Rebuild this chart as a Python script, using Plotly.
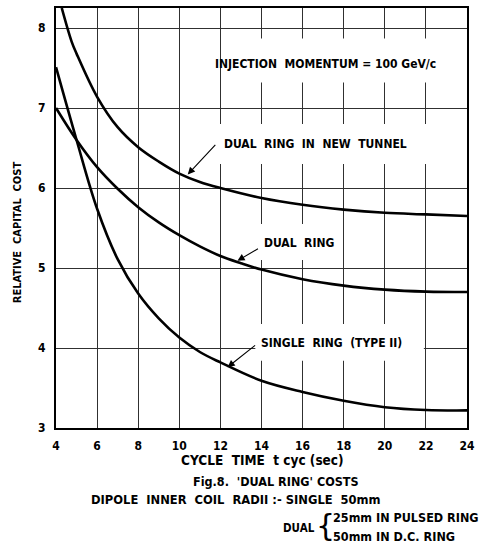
import plotly.graph_objects as go

# ---- data ----
x_tunnel = [4.28, 4.76, 5, 6, 7, 8, 9, 10, 11, 12, 14, 16, 18, 20, 22, 24]
y_tunnel = [8.25, 7.83, 7.68, 7.14, 6.76, 6.51, 6.33, 6.18, 6.075, 6.0, 5.875, 5.79, 5.73, 5.69, 5.67, 5.65]

x_dual = [4, 5, 6, 7, 8, 9, 10, 11, 12, 13, 14, 16, 18, 20, 22, 24]
y_dual = [7.0, 6.6, 6.26, 5.99, 5.76, 5.57, 5.41, 5.27, 5.15, 5.06, 4.98, 4.86, 4.78, 4.73, 4.705, 4.70]

x_single = [4, 5, 6, 7, 8, 9, 10, 11, 12, 14, 16, 18, 20, 22, 24]
y_single = [7.51, 6.6, 5.74, 5.11, 4.68, 4.37, 4.13, 3.95, 3.82, 3.59, 3.45, 3.34, 3.26, 3.225, 3.22]

x_ticks = [4, 6, 8, 10, 12, 14, 16, 18, 20, 22, 24]
y_ticks = [3, 4, 5, 6, 7, 8]

FONT = "DejaVu Sans Condensed, Liberation Sans Narrow, DejaVu Sans, sans-serif"
NB = "\u00a0"

fig = go.Figure()
for xs, ys in [(x_tunnel, y_tunnel), (x_dual, y_dual), (x_single, y_single)]:
    fig.add_trace(go.Scatter(x=xs, y=ys, mode="lines",
                             line=dict(color="black", width=2.6, shape="spline", smoothing=1.0),
                             hoverinfo="skip", showlegend=False))

fig.update_layout(
    width=481, height=546,
    margin=dict(l=56, r=13, t=6, b=118, pad=0),
    paper_bgcolor="white", plot_bgcolor="white",
    font=dict(family=FONT, color="black", size=12),
    xaxis=dict(range=[4, 24], tickvals=x_ticks, ticktext=[str(v) for v in x_ticks],
               showgrid=True, gridcolor="#303030", gridwidth=1,
               showline=True, linecolor="black", linewidth=2, mirror=True,
               ticks="", ticklabelstandoff=6,
               tickfont=dict(family=FONT, size=12, weight="bold"), zeroline=False),
    yaxis=dict(range=[3, 8.25], tickvals=y_ticks, ticktext=[str(v) for v in y_ticks],
               showgrid=True, gridcolor="#303030", gridwidth=1,
               showline=True, linecolor="black", linewidth=2, mirror=True,
               ticks="", ticklabelstandoff=6,
               tickfont=dict(family=FONT, size=12, weight="bold"), zeroline=False),
)

# white label patches that interrupt the grid (between grid and traces)
patches = [
    (12.3, 22.8, 7.32, 7.87),   # injection momentum
    (11.9, 22.8, 6.3, 6.8),     # dual ring in new tunnel
    (13.8, 17.8, 5.1, 5.55),    # dual ring
    (13.7, 21.9, 3.84, 4.3),    # single ring
]
for x0, x1, y0, y1 in patches:
    fig.add_shape(type="rect", x0=x0, x1=x1, y0=y0, y1=y1, xref="x", yref="y",
                  fillcolor="white", line=dict(width=0), layer="between")

bold = dict(family=FONT, size=12, weight="bold", color="black")

def label(text, x, y, xanchor="center", xref="x", yref="y", size=12, angle=0):
    f = dict(bold)
    f["size"] = size
    fig.add_annotation(text=text, x=x, y=y, xref=xref, yref=yref, xanchor=xanchor,
                       yanchor="middle", showarrow=False, font=f, textangle=angle)

label(f"INJECTION{NB}{NB}MOMENTUM{NB}={NB}100{NB}GeV/c", 17.13, 7.55)
label(f"DUAL{NB}{NB}RING{NB}{NB}IN{NB}{NB}NEW{NB}{NB}TUNNEL", 12.06, 6.545, xanchor="left")
label(f"DUAL{NB}{NB}RING", 14.0, 5.31, xanchor="left")
label(f"SINGLE{NB}{NB}RING{NB}{NB}(TYPE{NB}II)", 13.9, 4.06, xanchor="left")

# arrows
for x, y, ax, ay in [(10.41, 6.17, 29, -31), (12.83, 5.09, 22, -13), (12.35, 3.76, 29, -23)]:
    fig.add_annotation(text="", x=x, y=y, xref="x", yref="y", ax=ax, ay=ay,
                       showarrow=True, arrowhead=2, arrowsize=1.3, arrowwidth=1.1,
                       arrowcolor="black")

# axis titles and captions (paper coords)
label(f"RELATIVE{NB}{NB}CAPITAL{NB}{NB}COST", -0.094, 0.467, xref="paper", yref="paper", size=11, angle=-90)
label(f"CYCLE{NB}{NB}TIME{NB}{NB}t{NB}cyc{NB}(sec)", 0.502, -0.0758, xref="paper", yref="paper", size=13.5)
label(f"Fig.8.{NB}{NB}'DUAL{NB}RING'{NB}COSTS", 0.536, -0.128, xref="paper", yref="paper", size=12.5)
label(f"DIPOLE{NB}{NB}INNER{NB}{NB}COIL{NB}{NB}RADII{NB}:-{NB}SINGLE{NB}{NB}50mm", 0.439, -0.171,
      xref="paper", yref="paper", size=12.8)
label("DUAL", 0.592, -0.237, xref="paper", yref="paper", size=11.5)
fig.add_annotation(text="{", x=0.655, y=-0.232, xref="paper", yref="paper", showarrow=False,
                   xanchor="center", yanchor="middle",
                   font=dict(family="DejaVu Sans", size=30, color="black"))
label(f"25mm{NB}IN{NB}PULSED{NB}RING", 0.670, -0.213, xanchor="left", xref="paper", yref="paper", size=12.5)
label(f"50mm{NB}IN{NB}D.C.{NB}RING", 0.670, -0.258, xanchor="left", xref="paper", yref="paper", size=12.5)

fig.write_html("out.html")
